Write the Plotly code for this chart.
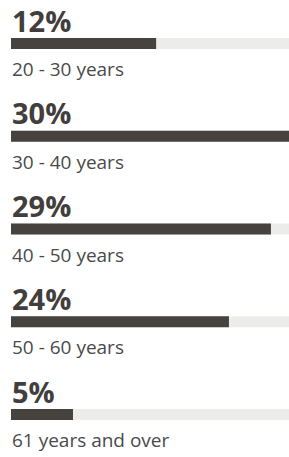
import plotly.graph_objects as go

# Data
categories = ["20 - 30 years", "30 - 40 years", "40 - 50 years", "50 - 60 years", "61 years and over"]
percent_labels = ["12%", "30%", "29%", "24%", "5%"]
bar_fill = [52.2, 100, 93.5, 78.4, 22.3]   # bar length as % of track
track_max = 100

W, H = 289, 457
row0, pitch = 43.5, 92.75
bar_h = 11
dark = "#46423e"
track = "#ececeb"

ys = [row0 + i * pitch for i in range(len(categories))]

fig = go.Figure()
fig.add_trace(go.Bar(x=[track_max] * len(categories), y=ys, orientation="h", width=bar_h,
                     marker=dict(color=track, line=dict(width=0)), hoverinfo="skip"))
fig.add_trace(go.Bar(x=bar_fill, y=ys, orientation="h", width=bar_h,
                     marker=dict(color=dark, line=dict(width=0)), hoverinfo="skip"))

for y, p, c in zip(ys, percent_labels, categories):
    fig.add_annotation(x=0, y=y - 23.5, xref="x", yref="y", text="<b>" + p + "</b>",
                       showarrow=False, xanchor="left", yanchor="middle", xshift=-1,
                       font=dict(family="Open Sans", size=29, color="#423e3b"))
    fig.add_annotation(x=0, y=y + 25.5, xref="x", yref="y", text=c,
                       showarrow=False, xanchor="left", yanchor="middle", xshift=-1,
                       font=dict(family="Open Sans", size=19, color="#4a4a4a"))

fig.update_layout(
    width=W, height=H, barmode="overlay", showlegend=False,
    margin=dict(l=11, r=0, t=0, b=0),
    paper_bgcolor="white", plot_bgcolor="white",
    xaxis=dict(range=[0, track_max], visible=False, fixedrange=True),
    yaxis=dict(range=[H, 0], visible=False, fixedrange=True),
)
fig.write_html("out.html", config={"displayModeBar": False},
               post_script="document.body.style.margin='0';document.body.style.overflow='hidden';")
